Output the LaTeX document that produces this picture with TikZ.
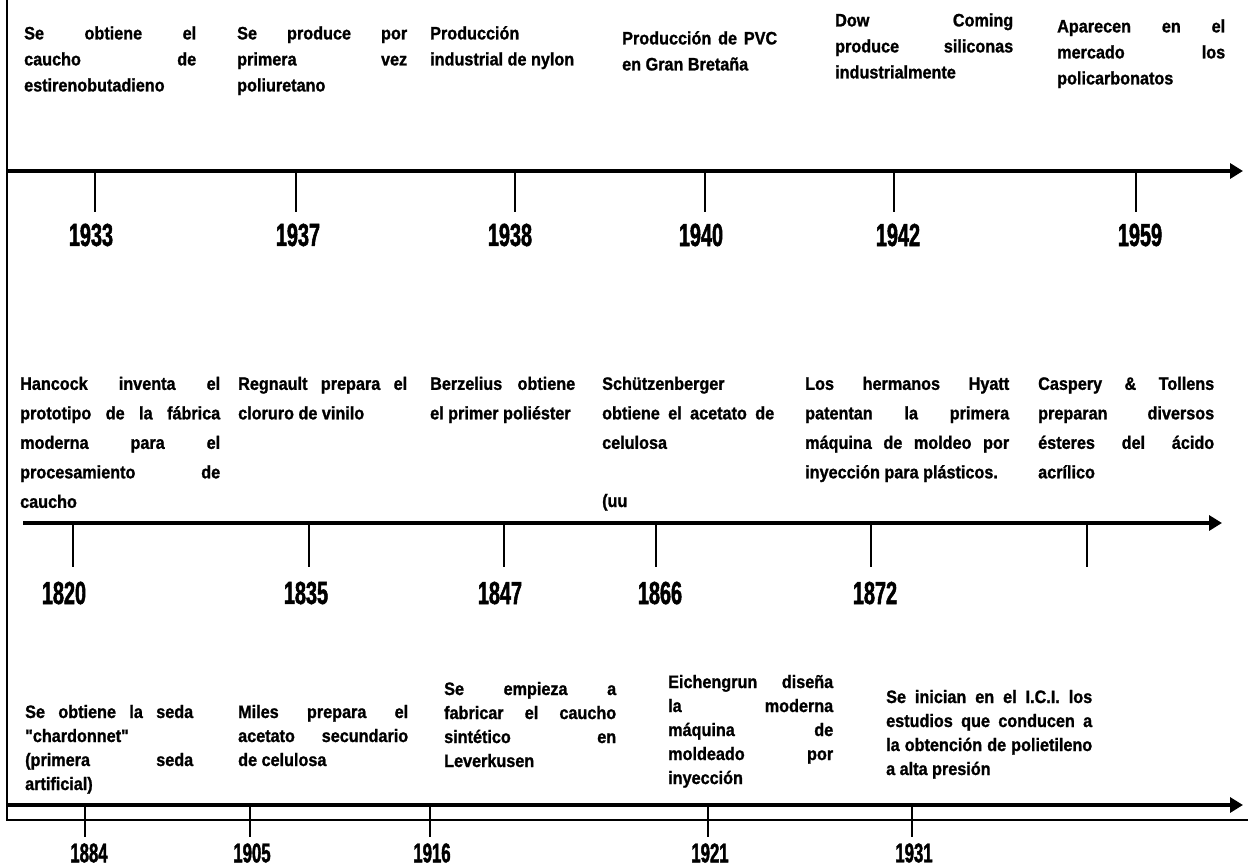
\documentclass[tikz,border=0pt]{standalone}
\usepackage{fontspec}
\setmainfont{Liberation Sans}
\newfontfamily\evtfont[FakeStretch=0.9, FakeBold=1.2]{Liberation Sans}
\newfontfamily\yrfont[FakeStretch=0.62, FakeBold=1.5]{Liberation Sans}
\usetikzlibrary{arrows.meta, positioning}

\begin{document}
\begin{tikzpicture}[
        x=1pt, y=-1pt,
        evt/.style={text width=#1pt, align=justify, inner sep=0pt, anchor=north west},
        rowa/.style={font=\evtfont\bfseries\fontsize{18}{26}\selectfont},
        rowb/.style={font=\evtfont\bfseries\fontsize{18}{29.5}\selectfont},
        rowc/.style={font=\evtfont\bfseries\fontsize{18}{24}\selectfont},
        yr/.style={font=\yrfont\bfseries\fontsize{32}{32}\selectfont, inner sep=0pt},
        yrlow/.style={font=\yrfont\bfseries\fontsize{27}{27}\selectfont, inner sep=0pt},
        axis/.style={-{Triangle[length=13pt, width=15pt]}, line width=4.5pt},
        tick/.style={line width=2.5pt}
    ]
    \useasboundingbox (0,0) rectangle (1248,867);
    \draw[line width=2pt] (7,0) -- (7,820) -- (1248,820);

    % first line: 1933 - 1959
    \node[evt=172, rowa] (obt) at (24,21) {\strut Se obtiene el\linebreak caucho de\linebreak estirenobutadieno};
    \node[evt=170, rowa] (prod) at (237,21) {\strut Se produce por\linebreak primera vez\linebreak poliuretano};
    \node[evt=160, rowa] (nylon) at (430,21) {\strut Producción\linebreak industrial de nylon};
    \node[evt=155, rowa] (pvc) at (622,26) {\strut Producción de PVC\linebreak en Gran Bretaña};
    \node[evt=178, rowa] (silic) at (835,8) {\strut Dow Coming\linebreak produce siliconas\linebreak industrialmente};
    \node[evt=168, rowa] (pcarb) at (1057,14) {\strut Aparecen en el\linebreak mercado los\linebreak policarbonatos};

    \coordinate (a1s) at (8,171);
    \coordinate (a1e) at (1243,171);
    \draw[axis] (a1s) -- (a1e);

    \coordinate (k1933) at (95,212);
    \coordinate (k1937) at (296,212);
    \coordinate (k1938) at (515,212);
    \coordinate (k1940) at (705,212);
    \coordinate (k1942) at (894,212);
    \coordinate (k1959) at (1136,212);
    \node[yr] (y1933) at (91,235) {1933};
    \node[yr] (y1937) at (298,235) {1937};
    \node[yr] (y1938) at (510,235) {1938};
    \node[yr] (y1940) at (701,235) {1940};
    \node[yr] (y1942) at (898,235) {1942};
    \node[yr] (y1959) at (1140,235) {1959};
    \draw[tick] (k1933 |- a1s) -- (k1933);
    \draw[tick] (k1937 |- a1s) -- (k1937);
    \draw[tick] (k1938 |- a1s) -- (k1938);
    \draw[tick] (k1940 |- a1s) -- (k1940);
    \draw[tick] (k1942 |- a1s) -- (k1942);
    \draw[tick] (k1959 |- a1s) -- (k1959);

    % second line: 1820 - 1872
    \node[evt=200, rowb] (hanc) at (20,369) {\strut Hancock inventa el\linebreak prototipo de la fábrica\linebreak moderna para el\linebreak procesamiento de\linebreak caucho};
    \node[evt=169, rowb] (regn) at (238,369) {\strut Regnault prepara el\linebreak cloruro de vinilo};
    \node[evt=145, rowb] (berz) at (430,369) {\strut Berzelius obtiene\linebreak el primer poliéster};
    \node[evt=172, rowb] (schu) at (602,369) {\strut Schützenberger\linebreak obtiene el acetato de\linebreak celulosa};
    \node[evt=204, rowb] (hyatt) at (805,369) {\strut Los hermanos Hyatt\linebreak patentan la primera\linebreak máquina de moldeo por\linebreak inyección para plásticos.};
    \node[evt=176, rowb] (casp) at (1038,369) {\strut Caspery \& Tollens\linebreak preparan diversos\linebreak ésteres del ácido\linebreak acrílico};
    \node[rowb, inner sep=0pt, anchor=base west] (uu) at (602,507) {(uu};

    \coordinate (a2s) at (23,523);
    \coordinate (a2e) at (1222,523);
    \draw[axis] (a2s) -- (a2e);

    \coordinate (k1820) at (73,567);
    \coordinate (k1835) at (309,567);
    \coordinate (k1847) at (504,567);
    \coordinate (k1866) at (656,567);
    \coordinate (k1872) at (871,567);
    \coordinate (kacr) at (1087,567);
    \node[yr] (y1820) at (64,593) {1820};
    \node[yr] (y1835) at (306,593) {1835};
    \node[yr] (y1847) at (500,593) {1847};
    \node[yr] (y1866) at (660,593) {1866};
    \node[yr] (y1872) at (875,593) {1872};
    \draw[tick] (k1820 |- a2s) -- (k1820);
    \draw[tick] (k1835 |- a2s) -- (k1835);
    \draw[tick] (k1847 |- a2s) -- (k1847);
    \draw[tick] (k1866 |- a2s) -- (k1866);
    \draw[tick] (k1872 |- a2s) -- (k1872);
    \draw[tick] (kacr |- a2s) -- (kacr);

    % third line: 1884 - 1931
    \node[evt=168, rowc] (seda) at (25,701) {\strut Se obtiene la seda\linebreak "chardonnet"\linebreak (primera seda\linebreak artificial)};
    \node[evt=170, rowc] (miles) at (238,701) {\strut Miles prepara el\linebreak acetato secundario\linebreak de celulosa};
    \node[evt=172, rowc] (lever) at (444,678) {\strut Se empieza a\linebreak fabricar el caucho\linebreak sintético en\linebreak Leverkusen};
    \node[evt=165, rowc] (eich) at (668,671) {\strut Eichengrun diseña\linebreak la moderna\linebreak máquina de\linebreak moldeado por\linebreak inyección};
    \node[evt=206, rowc] (ici) at (886,686) {\strut Se inician en el I.C.I. los\linebreak estudios que conducen a\linebreak la obtención de polietileno\linebreak a alta presión};

    \coordinate (a3s) at (8,805);
    \coordinate (a3e) at (1243,805);
    \draw[axis] (a3s) -- (a3e);

    \coordinate (k1884) at (85,837);
    \coordinate (k1905) at (250,837);
    \coordinate (k1916) at (430,837);
    \coordinate (k1921) at (708,837);
    \coordinate (k1931) at (912,837);
    \node[yrlow] (y1884) at (89,853) {1884};
    \node[yrlow] (y1905) at (252,853) {1905};
    \node[yrlow] (y1916) at (432,853) {1916};
    \node[yrlow] (y1921) at (710,853) {1921};
    \node[yrlow] (y1931) at (914,853) {1931};
    \draw[tick] (k1884 |- a3s) -- (k1884);
    \draw[tick] (k1905 |- a3s) -- (k1905);
    \draw[tick] (k1916 |- a3s) -- (k1916);
    \draw[tick] (k1921 |- a3s) -- (k1921);
    \draw[tick] (k1931 |- a3s) -- (k1931);
\end{tikzpicture}
\end{document}
